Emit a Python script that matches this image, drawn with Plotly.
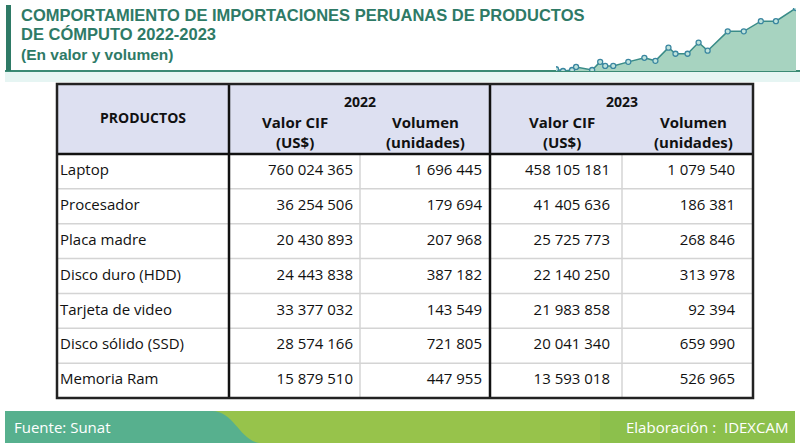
import plotly.graph_objects as go

# ---------------- data ----------------
productos = ["Laptop", "Procesador", "Placa madre", "Disco duro (HDD)",
             "Tarjeta de video", "Disco sólido (SSD)", "Memoria Ram"]
valor_2022 = [760024365, 36254506, 20430893, 24443838, 33377032, 28574166, 15879510]
volumen_2022 = [1696445, 179694, 207968, 387182, 143549, 721805, 447955]
valor_2023 = [458105181, 41405636, 25725773, 22140250, 21983858, 20041340, 13593018]
volumen_2023 = [1079540, 186381, 268846, 313978, 92394, 659990, 526965]
anios = ["2022", "2023"]
sub_headers = ["Valor CIF<br>(US$)", "Volumen<br>(unidades)"]
col_header = "PRODUCTOS"

title_lines = ["COMPORTAMIENTO DE IMPORTACIONES PERUANAS DE PRODUCTOS",
               "DE CÓMPUTO 2022-2023"]
subtitle = "(En valor y volumen)"
fuente = "Fuente: Sunat"
elaboracion = "Elaboración :  IDEXCAM"

# decorative trend line (top right)
spark_x = [0, 7, 16, 20, 36, 44, 49, 57, 72, 88, 99, 112, 119, 131, 142, 151, 171, 187, 204, 219, 239]
spark_y = [1.7, 0, 1, 4, 1, 9, 5, 5, 9, 13, 10, 23, 17, 17, 28, 20, 39, 39, 49, 49, 62]

# ---------------- layout constants ----------------
W, H = 800, 446
COL_EDGES = [57, 229, 360, 490, 622, 753]
TOP, HEAD_BOTTOM, BOTTOM = 84, 154, 398
N = len(productos)
ROW_H = (BOTTOM - HEAD_BOTTOM) / N
PADS = [7, 8, 12, 18]
TEAL = "#2e7a66"
BODY_FONT = "Open Sans"
TITLE_FONT = "Liberation Sans"


def fmt(v):
    return f"{v:,}".replace(",", " ")


row_centers = [HEAD_BOTTOM + ROW_H * (r + 0.5) for r in range(N)]

fig = go.Figure()

# product names
fig.add_trace(go.Scatter(
    x=[COL_EDGES[0] + 3] * N, y=row_centers, mode="text", text=productos,
    textposition="middle right", textfont=dict(family=BODY_FONT, size=15, color="#111"),
    hoverinfo="skip", showlegend=False))

series = [valor_2022, volumen_2022, valor_2023, volumen_2023]
for i, s in enumerate(series):
    fig.add_trace(go.Scatter(
        x=[COL_EDGES[i + 2] - PADS[i]] * N, y=row_centers, mode="text",
        text=[fmt(v) for v in s], textposition="middle left",
        textfont=dict(family=BODY_FONT, size=15, color="#111"),
        hoverinfo="skip", showlegend=False))

# sparkline decoration
fig.add_trace(go.Scatter(
    x=spark_x, y=spark_y, xaxis="x2", yaxis="y2", mode="lines+markers",
    line=dict(color="#3a8c88", width=1.5),
    marker=dict(size=5, color="#bfe3dc", line=dict(color="#3a86a0", width=1.3)),
    fill="tozeroy", fillcolor="rgba(95,175,140,0.55)",
    hoverinfo="skip", showlegend=False))

shapes = []
# header background
shapes.append(dict(type="rect", x0=COL_EDGES[0], x1=COL_EDGES[-1], y0=TOP, y1=HEAD_BOTTOM,
                   fillcolor="#dde0f1", line=dict(width=0), layer="below"))
# thin horizontal row lines
for r in range(1, N):
    y = HEAD_BOTTOM + ROW_H * r
    shapes.append(dict(type="line", x0=COL_EDGES[0], x1=COL_EDGES[-1], y0=y, y1=y,
                       line=dict(color="#d4d4d4", width=1.5), layer="below"))
# thin vertical lines in body
for xe in (COL_EDGES[2], COL_EDGES[4]):
    shapes.append(dict(type="line", x0=xe, x1=xe, y0=HEAD_BOTTOM, y1=BOTTOM,
                       line=dict(color="#d4d4d4", width=1.5), layer="below"))
# thick black lines
for xe in (COL_EDGES[1], COL_EDGES[3]):
    shapes.append(dict(type="line", x0=xe, x1=xe, y0=TOP, y1=BOTTOM,
                       line=dict(color="#111", width=2.5)))
shapes.append(dict(type="line", x0=COL_EDGES[0], x1=COL_EDGES[-1], y0=HEAD_BOTTOM, y1=HEAD_BOTTOM,
                   line=dict(color="#111", width=2.5)))
shapes.append(dict(type="rect", x0=COL_EDGES[0], x1=COL_EDGES[-1], y0=TOP, y1=BOTTOM,
                   line=dict(color="#222", width=2.5)))

# title decoration
shapes.append(dict(type="rect", x0=5, x1=W, y0=72, y1=82,
                   fillcolor="rgba(200,232,228,0.45)", line=dict(width=0), layer="below"))
shapes.append(dict(type="line", x0=5, x1=W, y0=71, y1=71,
                   line=dict(color="#3a8a74", width=2), layer="below"))
shapes.append(dict(type="rect", x0=6, x1=11, y0=5, y1=71,
                   fillcolor=TEAL, line=dict(width=0), layer="below"))

# footer
shapes.append(dict(type="rect", x0=5, x1=300, y0=411, y1=443,
                   fillcolor="#57b08e", line=dict(width=0), layer="below"))
shapes.append(dict(type="path",
                   path="M 212 411 C 235 411, 240 443, 262 443 L 795 443 L 795 411 Z",
                   fillcolor="#97c34b", line=dict(width=0), layer="below"))
shapes.append(dict(type="rect", x0=600, x1=795, y0=411, y1=443,
                   fillcolor="rgba(120,185,80,0.35)", line=dict(width=0), layer="below"))

annotations = []
# header texts
annotations.append(dict(x=(COL_EDGES[0] + COL_EDGES[1]) / 2, y=117, text=f"<b>{col_header}</b>",
                        showarrow=False, font=dict(family=BODY_FONT, size=14, color="#111")))
for k, anio in enumerate(anios):
    a, b = COL_EDGES[1 + 2 * k], COL_EDGES[3 + 2 * k]
    annotations.append(dict(x=(a + b) / 2, y=101, text=f"<b>{anio}</b>", showarrow=False,
                            font=dict(family=BODY_FONT, size=14, color="#111")))
    for j, sh in enumerate(sub_headers):
        c0, c1 = COL_EDGES[1 + 2 * k + j], COL_EDGES[2 + 2 * k + j]
        annotations.append(dict(x=(c0 + c1) / 2 + (6 * k), y=132, text=f"<b>{sh}</b>",
                                showarrow=False,
                                font=dict(family=BODY_FONT, size=15, color="#111")))

# title texts
for k, t in enumerate(title_lines):
    annotations.append(dict(x=19, y=14.8 + 19.6 * k, text=f"<b>{t}</b>", xanchor="left",
                            showarrow=False,
                            font=dict(family=TITLE_FONT, size=16.5, color=TEAL)))
annotations.append(dict(x=19, y=54.5, text=f"<b>{subtitle}</b>", xanchor="left", showarrow=False,
                        font=dict(family=TITLE_FONT, size=15.5, color=TEAL)))
# footer texts
annotations.append(dict(x=12, y=427, text=fuente, xanchor="left", showarrow=False,
                        font=dict(family="Open Sans", size=15, color="white")))
annotations.append(dict(x=790, y=427, text=elaboracion, xanchor="right", showarrow=False,
                        font=dict(family="Open Sans", size=15, color="white")))

for a in annotations:
    a.setdefault("xref", "x")
    a.setdefault("yref", "y")

fig.update_layout(
    width=W, height=H, margin=dict(l=0, r=0, t=0, b=0),
    paper_bgcolor="white", plot_bgcolor="white",
    xaxis=dict(range=[0, W], visible=False, domain=[0, 1], fixedrange=True),
    yaxis=dict(range=[H, 0], visible=False, domain=[0, 1], fixedrange=True),
    xaxis2=dict(range=[0, 239], visible=False, domain=[556 / W, 796 / W], anchor="y2"),
    yaxis2=dict(range=[0, 62], visible=False, domain=[1 - 71 / H, 1 - 8 / H], anchor="x2"),
    shapes=shapes, annotations=annotations, showlegend=False,
)

fig.write_html("out.html", config={"displayModeBar": False},
               post_script="document.body.style.margin='0';document.body.style.overflow='hidden';")
